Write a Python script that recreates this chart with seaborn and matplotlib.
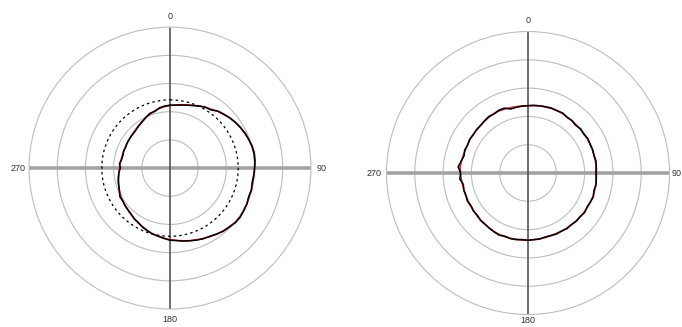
import numpy as np
import matplotlib
matplotlib.use("Agg")
import matplotlib.pyplot as plt
import seaborn as sns

sns.set_style("white")
plt.rcParams["font.family"] = ["Liberation Sans", "DejaVu Sans"]

# Bearing of each sample, degrees clockwise from north (5 degree steps)
angles_deg = list(range(0, 360, 5))

# Left panel: measured profile (black) and fitted profile (red)
left_measured = [
    2.23, 2.24, 2.27, 2.31, 2.36, 2.43, 2.50, 2.52, 2.64, 2.70, 2.77, 2.83,
    2.88, 2.93, 2.97, 3.01, 3.03, 3.02, 3.00, 2.98, 2.96, 2.99, 2.97, 3.01,
    3.02, 3.04, 3.02, 2.96, 2.93, 2.86, 2.80, 2.77, 2.72, 2.67, 2.63, 2.58,
    2.56, 2.50, 2.45, 2.42, 2.36, 2.31, 2.24, 2.20, 2.14, 2.10, 2.08, 2.04,
    2.05, 1.98, 1.93, 1.90, 1.86, 1.82, 1.76, 1.80, 1.74, 1.73, 1.75, 1.74,
    1.76, 1.77, 1.78, 1.79, 1.83, 1.88, 1.93, 2.00, 2.07, 2.08, 2.17, 2.21,
]
left_fitted = [
    2.22, 2.25, 2.28, 2.32, 2.37, 2.43, 2.49, 2.55, 2.63, 2.70, 2.77, 2.83,
    2.89, 2.94, 2.98, 3.02, 3.04, 3.03, 3.01, 2.99, 2.98, 2.99, 2.99, 3.01,
    3.02, 3.03, 3.01, 2.97, 2.92, 2.87, 2.81, 2.76, 2.71, 2.67, 2.62, 2.58,
    2.54, 2.50, 2.45, 2.41, 2.36, 2.30, 2.25, 2.20, 2.15, 2.11, 2.07, 2.04,
    2.01, 1.97, 1.93, 1.89, 1.85, 1.82, 1.79, 1.78, 1.76, 1.75, 1.75, 1.75,
    1.76, 1.77, 1.79, 1.81, 1.84, 1.88, 1.93, 1.99, 2.04, 2.10, 2.15, 2.19,
]
left_reference_radius = 2.42

# Right panel: measured profile (black) and fitted profile (red)
right_measured = [
    2.38, 2.40, 2.41, 2.42, 2.44, 2.43, 2.45, 2.40, 2.42, 2.38, 2.43, 2.40,
    2.44, 2.42, 2.43, 2.41, 2.44, 2.42, 2.40, 2.42, 2.44, 2.41, 2.46, 2.43,
    2.41, 2.44, 2.40, 2.41, 2.38, 2.40, 2.37, 2.38, 2.35, 2.34, 2.37, 2.36,
    2.38, 2.36, 2.39, 2.40, 2.38, 2.42, 2.40, 2.38, 2.36, 2.37, 2.33, 2.35,
    2.32, 2.36, 2.33, 2.35, 2.32, 2.42, 2.38, 2.48, 2.40, 2.34, 2.38, 2.35,
    2.38, 2.36, 2.38, 2.37, 2.40, 2.43, 2.41, 2.45, 2.44, 2.34, 2.36, 2.37,
]
right_fitted = [
    2.38, 2.39, 2.41, 2.42, 2.43, 2.43, 2.43, 2.42, 2.41, 2.41, 2.41, 2.42,
    2.42, 2.42, 2.42, 2.42, 2.42, 2.42, 2.42, 2.42, 2.43, 2.43, 2.44, 2.43,
    2.42, 2.42, 2.41, 2.40, 2.39, 2.38, 2.37, 2.36, 2.36, 2.36, 2.36, 2.37,
    2.37, 2.38, 2.38, 2.39, 2.39, 2.40, 2.39, 2.38, 2.37, 2.36, 2.35, 2.34,
    2.34, 2.34, 2.34, 2.34, 2.35, 2.37, 2.39, 2.41, 2.39, 2.37, 2.36, 2.36,
    2.37, 2.37, 2.37, 2.38, 2.39, 2.41, 2.42, 2.42, 2.41, 2.39, 2.38, 2.38,
]

ring_radii = [1, 2, 3, 4]
r_max = 5
compass_labels = ["0", "90", "180", "270"]
compass_angles = [0, 90, 180, 270]

fig = plt.figure(figsize=(6.82, 3.27), dpi=100)
ax_left = fig.add_axes([0.0425, 0.055, 0.4135, 0.862], projection="polar")
ax_right = fig.add_axes([0.5667, 0.0382, 0.415, 0.8654], projection="polar")

ring_color = "#bdbdbd"


def closed(theta_deg, radii):
    th = np.deg2rad(np.append(theta_deg, theta_deg[0] + 360))
    rr = np.append(radii, radii[0])
    return th, rr


def style_axes(ax, label_offsets):
    ax.set_theta_zero_location("N")
    ax.set_theta_direction(-1)
    ax.set_ylim(0, r_max)
    ax.set_xticks([])
    ax.set_yticks(ring_radii)
    ax.set_yticklabels([])
    ax.grid(True, axis="y", color=ring_color, lw=0.8)
    ax.spines["polar"].set_color(ring_color)
    ax.spines["polar"].set_linewidth(0.8)
    # cross-hair axes
    ax.plot(np.deg2rad([90, 90]), [0, r_max], color="#a3a3a3", lw=2.6,
            solid_capstyle="butt", zorder=2)
    ax.plot(np.deg2rad([270, 270]), [0, r_max], color="#a3a3a3", lw=2.6,
            solid_capstyle="butt", zorder=2)
    ax.plot(np.deg2rad([0, 0]), [0, r_max], color="#555555", lw=1.2, zorder=2)
    ax.plot(np.deg2rad([180, 180]), [0, r_max], color="#555555", lw=1.2, zorder=2)
    for lab, ang, off in zip(compass_labels, compass_angles, label_offsets):
        ax.text(np.deg2rad(ang), r_max * off, lab, ha="center",
                va="center", fontsize=6.5, color="#333333", clip_on=False)


panels = [(ax_left, left_measured, left_fitted, [1.075, 1.075, 1.075, 1.08]),
          (ax_right, right_measured, right_fitted, [1.075, 1.05, 1.045, 1.09])]
for ax, meas, fit, offsets in panels:
    style_axes(ax, offsets)
    th, rr = closed(angles_deg, fit)
    sns.lineplot(x=th, y=rr, ax=ax, color="#c62828", lw=1.2, sort=False,
                 estimator=None, zorder=3)
    th, rr = closed(angles_deg, meas)
    sns.lineplot(x=th, y=rr, ax=ax, color="black", lw=1.1, sort=False,
                 estimator=None, zorder=4)

# dotted reference circle on the left panel
th_ref = np.deg2rad(np.arange(0, 361, 2))
sns.lineplot(x=th_ref, y=np.full(th_ref.shape, left_reference_radius), ax=ax_left,
             color="black", lw=0.9, linestyle=(0, (2, 2.5)), sort=False,
             estimator=None, zorder=3)

for ax in (ax_left, ax_right):
    ax.set_xlabel("")
    ax.set_ylabel("")

fig.savefig("out.png", dpi=100)
